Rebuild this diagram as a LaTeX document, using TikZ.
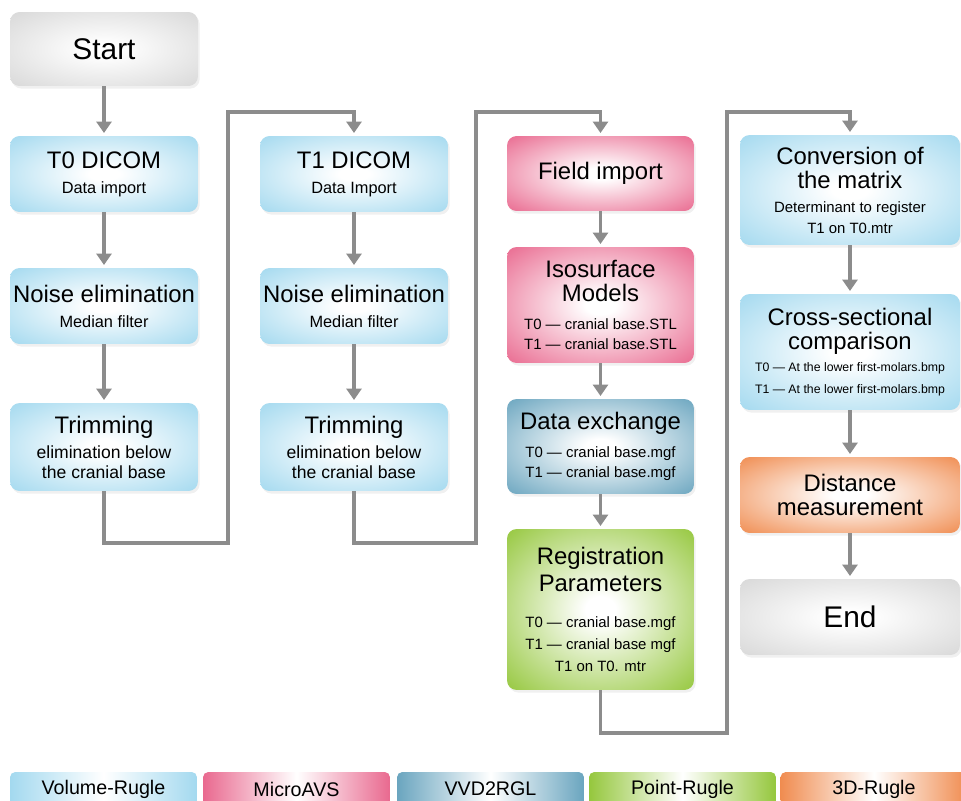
\documentclass[tikz,border=0pt]{standalone}
\usepackage{fontspec}
\setmainfont{Liberation Sans}
\usetikzlibrary{arrows.meta}
\usetikzlibrary{shadows}

\definecolor{volblue}{RGB}{163,217,239}
\definecolor{avspink}{RGB}{233,105,143}
\definecolor{vvdblue}{RGB}{106,165,191}
\definecolor{ptgreen}{RGB}{149,199,61}
\definecolor{rugorange}{RGB}{240,140,80}
\definecolor{endgray}{RGB}{216,216,216}
\definecolor{linegray}{RGB}{140,140,140}
\colorlet{boxcol}{volblue}

% 中心发白的径向渐变
\pgfdeclareradialshading[boxcol]{boxglow}{\pgfpoint{0bp}{0bp}}{color(0bp)=(white); color(4bp)=(white); color(36bp)=(boxcol); color(50bp)=(boxcol)}

\newcommand{\boxtitle}[1]{{\fontsize{13.6}{13.6}\selectfont #1\par}}
\newcommand{\boxnote}[1]{{\vspace{3pt}\fontsize{9.3}{11.3}\selectfont #1\par}}
\newcommand{\boxsmall}[1]{{\fontsize{8.5}{11.8}\selectfont #1\par}}
\newcommand{\boxtiny}[1]{{\fontsize{7}{12.4}\selectfont #1\par}}

\tikzset{
  flowbox/.style={shade, shading=boxglow, rounded corners=5.5pt, inner sep=0pt, align=flush center,
    drop shadow={opacity=0.12, shadow xshift=1pt, shadow yshift=-1.5pt}},
  colA/.style={minimum width=3.76cm, text width=3.7cm},
  colB/.style={minimum width=3.74cm, text width=3.68cm},
  colC/.style={minimum width=4.4cm, text width=4.3cm},
  volbox/.style={flowbox, /utils/exec={\colorlet{boxcol}{volblue}}},
  avsbox/.style={flowbox, /utils/exec={\colorlet{boxcol}{avspink}}},
  vvdbox/.style={flowbox, /utils/exec={\colorlet{boxcol}{vvdblue}}},
  ptbox/.style={flowbox, /utils/exec={\colorlet{boxcol}{ptgreen}}},
  rugbox/.style={flowbox, /utils/exec={\colorlet{boxcol}{rugorange}}},
  endbox/.style={flowbox, /utils/exec={\colorlet{boxcol}{endgray}}},
  legbox/.style={rounded corners=3pt, inner sep=0pt, minimum width=3.74cm, minimum height=0.68cm,
    middle color=white, font=\fontsize{11.2}{12}\selectfont},
  flowline/.style={draw=linegray, line width=2pt},
  flowarrow/.style={flowline, -{Triangle[width=8.5pt,length=6.5pt]}, shorten >=1.5pt},
}

\begin{document}
\begin{tikzpicture}[x=0.02cm, y=-0.02cm]
    \useasboundingbox (0,0) rectangle (961,801);
    \clip (0,0) rectangle (961,801);

    % 第一列 T0
    \node[endbox, colA, minimum height=1.48cm] (start) at (104,49) {{\fontsize{17}{19}\selectfont Start\par}};
    \node[volbox, colA, minimum height=1.52cm] (t0dicom) at (104,174) {\boxtitle{T0 DICOM}\boxnote{Data import}};
    \node[volbox, colA, minimum height=1.52cm] (t0noise) at (104,306) {\boxtitle{Noise elimination}\boxnote{Median filter}};
    \node[volbox, colA, minimum height=1.76cm] (t0trim) at (104,447) {\boxtitle{Trimming}\boxnote{\fontsize{10}{11.3}\selectfont elimination below\\the cranial base}};

    % 第二列 T1
    \node[volbox, colA, minimum height=1.52cm] (t1dicom) at (354,174) {\boxtitle{T1 DICOM}\boxnote{Data Import}};
    \node[volbox, colA, minimum height=1.52cm] (t1noise) at (354,306) {\boxtitle{Noise elimination}\boxnote{Median filter}};
    \node[volbox, colA, minimum height=1.76cm] (t1trim) at (354,447) {\boxtitle{Trimming}\boxnote{\fontsize{10}{11.3}\selectfont elimination below\\the cranial base}};

    % 第三列
    \node[avsbox, colB, minimum height=1.5cm] (field) at (600.5,173.5) {\boxtitle{Field import}};
    \node[avsbox, colB, minimum height=2.32cm] (isosurf) at (600.5,305) {\boxtitle{Isosurface\\Models}\vspace{4pt}\boxsmall{T0 — cranial base.STL\\T1 — cranial base.STL}};
    \node[vvdbox, colB, minimum height=1.9cm] (exchange) at (600.5,446.5) {\boxtitle{Data exchange}\vspace{4pt}\boxsmall{T0 — cranial base.mgf\\T1 — cranial base.mgf}};
    \node[ptbox, colB, minimum height=3.22cm] (regis) at (600.5,609.5) {{\fontsize{13.6}{15.2}\selectfont Registration\\Parameters\par}\vspace{8pt}{\fontsize{8.5}{12.6}\selectfont T0 — cranial base.mgf\\T1 — cranial base mgf\\T1 on T0. mtr\par}};

    % 第四列
    \node[volbox, colC, minimum height=2.2cm] (convert) at (850,190) {\boxtitle{Conversion of\\the matrix}\vspace{2pt}\boxsmall{Determinant to register\\T1 on T0.mtr}};
    \node[volbox, colC, minimum height=2.32cm] (cross) at (850,352) {\boxtitle{Cross-sectional\\comparison}\boxtiny{T0 — At the lower first-molars.bmp\\T1 — At the lower first-molars.bmp}};
    \node[rugbox, colC, minimum height=1.52cm] (distance) at (850,495) {\boxtitle{Distance\\measurement}};
    \node[endbox, colC, minimum height=1.52cm] (finish) at (850,617) {{\fontsize{17}{19}\selectfont End\par}};

    % 转折点
    \coordinate (turnA1) at (228,543);
    \coordinate (turnA2) at (228,112);
    \coordinate (turnB1) at (476,543);
    \coordinate (turnB2) at (476,112);
    \coordinate (turnC1) at (727,733);
    \coordinate (turnC2) at (727,112);

    % 箭头
    \draw[flowarrow] (start) -- (t0dicom);
    \draw[flowarrow] (t0dicom) -- (t0noise);
    \draw[flowarrow] (t0noise) -- (t0trim);
    \draw[flowarrow] (t0trim.south) |- (turnA1) -- (turnA2) -| (t1dicom.north);
    \draw[flowarrow] (t1dicom) -- (t1noise);
    \draw[flowarrow] (t1noise) -- (t1trim);
    \draw[flowarrow] (t1trim.south) |- (turnB1) -- (turnB2) -| (field.north);
    \draw[flowarrow] (field) -- (isosurf);
    \draw[flowarrow] (isosurf) -- (exchange);
    \draw[flowarrow] (exchange) -- (regis);
    \draw[flowarrow] (regis.south) |- (turnC1) -- (turnC2) -| (convert.north);
    \draw[flowarrow] (convert) -- (cross);
    \draw[flowarrow] (cross) -- (distance);
    \draw[flowarrow] (distance) -- (finish);

    % 图例
    \node[legbox, left color=volblue, right color=volblue, middle color=white] (legvol) at (103.5,789) {Volume-Rugle};
    \node[legbox, left color=avspink, right color=avspink, middle color=white] (legavs) at (296.5,789) {MicroAVS};
    \node[legbox, left color=vvdblue, right color=vvdblue, middle color=white] (legvvd) at (490.5,789) {VVD2RGL};
    \node[legbox, left color=ptgreen, right color=ptgreen, middle color=white] (legpt) at (682.5,789) {Point-Rugle};
    \node[legbox, left color=rugorange, right color=rugorange, middle color=white] (legrug) at (874,789) {3D-Rugle};
\end{tikzpicture}
\end{document}
